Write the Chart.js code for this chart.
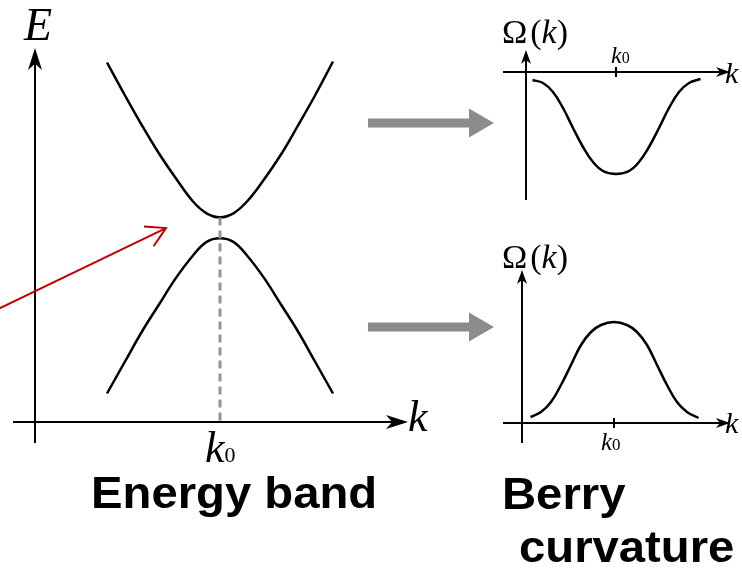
<!DOCTYPE html>
<html lang="en">
<head>
  <meta charset="UTF-8" />
  <title>Energy band and Berry curvature</title>
  <script src="https://cdn.jsdelivr.net/npm/chart.js"></script>
  <style>
    body {
      margin: 0;
      background: #fff;
    }

    #stage {
      position: relative;
      width: 742px;
      height: 574px;
      overflow: hidden;
    }

    #stage canvas {
      position: absolute;
      left: 0;
      top: 0;
    }

    .math {
      position: absolute;
      font-family: "Liberation Serif", "DejaVu Serif", serif;
      line-height: 1;
      white-space: nowrap;
      color: #000;
    }
    .math i { font-style: italic; }
    .math .sub { font-style: normal; }

    .caption {
      position: absolute;
      font-family: "Liberation Sans", Arial, sans-serif;
      font-weight: bold;
      font-size: 45px;
      line-height: 1;
      white-space: nowrap;
      transform: scaleX(1.05);
      transform-origin: left top;
    }
  </style>
</head>
<body>
  <div id="stage">
    <canvas id="band" width="742" height="574"></canvas>
    <canvas id="flow" width="742" height="574"></canvas>
    <canvas id="berryTop" width="742" height="574"></canvas>
    <canvas id="berryBottom" width="742" height="574"></canvas>

    <div class="math" style="left:24px; top:2px; font-size:46px;"><i>E</i></div>
    <div class="math" style="left:408px; top:395px; font-size:44px;"><i>k</i></div>
    <div class="math" style="left:205px; top:426px; font-size:44px;"><i>k</i><span class="sub" style="font-size:22px;">0</span></div>

    <div class="math" style="left:502px; top:15px; font-size:34px;">Ω<span style="margin-left:3px">(</span><i>k</i>)</div>
    <div class="math" style="left:611px; top:43px; font-size:24px;"><i>k</i><span class="sub" style="font-size:16px;">0</span></div>
    <div class="math" style="left:725px; top:58px; font-size:30px;"><i>k</i></div>

    <div class="math" style="left:502px; top:240px; font-size:34px;">Ω<span style="margin-left:3px">(</span><i>k</i>)</div>
    <div class="math" style="left:601px; top:429px; font-size:25px;"><i>k</i><span class="sub" style="font-size:17px;">0</span></div>
    <div class="math" style="left:725px; top:408px; font-size:30px;"><i>k</i></div>

    <div class="caption" style="left:91px; top:470px;">Energy band</div>
    <div class="caption" style="left:502px; top:471px;">Berry</div>
    <div class="caption" style="left:519px; top:524px;">curvature</div>
  </div>

  <script>
    // ---- energy bands around the gap at k0 (k0 = 0) ----
    const bandK  = [-5.65, -4.75, -3.9, -3.05, -2.2, -1.35, -0.67, 0, 0.67, 1.35, 2.2, 3.05, 3.9, 4.75, 5.65];
    const upperE = [8.25, 6.6, 5.1, 3.7, 2.45, 1.3, 0.71, 0.51, 0.71, 1.3, 2.4, 3.65, 5.1, 6.6, 8.3];
    const lowerE = [-8.3, -6.7, -5.2, -3.85, -2.52, -1.4, -0.72, -0.54, -0.72, -1.4, -2.52, -3.85, -5.2, -6.7, -8.3];

    // dashed guide from the gap down to the k axis
    const guideK = [0, 0];
    const guideE = [0.5, -9.7];

    // red pointer into the gap
    const pointerK = [-11.25, -2.7];
    const pointerE = [-4.15, -0.03];
    const pointerHeadK = [-3.8, -2.7, -3.32];
    const pointerHeadE = [0.055, -0.03, -0.935];

    // grey arrows from each band to its curvature panel
    const flowX = [0.57, 8.38];
    const flowTopY = [9.08, 9.08];
    const flowBottomY = [0.92, 0.92];

    // ---- Berry curvature of the two bands ----
    const berryK = [-8.35, -7.3, -6.3, -5.3, -4.3, -3.3, -2.3, -1.3, 0, 1.3, 2.3, 3.3, 4.3, 5.3, 6.3, 7.3, 8.45];
    const omegaUpper = [-0.8, -1.1, -2.0, -3.6, -5.6, -7.5, -9.0, -9.9, -10.2, -9.9, -9.0, -7.5, -5.6, -3.6, -2.0, -1.1, -0.7];
    const omegaLower = [0.6, 1.1, 2.1, 3.8, 5.8, 7.8, 9.1, 9.8, 10.1, 9.8, 9.1, 7.8, 5.8, 3.8, 2.1, 1.1, 0.5];

    const W = 742, H = 574;

    function pts(xs, ys) {
      return xs.map((x, i) => ({x: x, y: ys[i]}));
    }

    function arrowHead(ctx, tx, ty, dx, dy, len, half) {
      const bx = tx - dx * len, by = ty - dy * len;
      const nx = -dy, ny = dx;
      ctx.beginPath();
      ctx.moveTo(tx, ty);
      ctx.lineTo(bx + nx * half, by + ny * half);
      ctx.lineTo(tx - dx * len * 0.72, ty - dy * len * 0.72);
      ctx.lineTo(bx - nx * half, by - ny * half);
      ctx.closePath();
      ctx.fill();
    }

    // draws the two crossing axes with arrow tips (and an optional tick at k0)
    const axesPlugin = {
      id: 'axes',
      beforeDatasetsDraw(chart, args, opts) {
        const {ctx, scales: {x, y}} = chart;
        const ox = x.getPixelForValue(opts.originK);
        const oy = y.getPixelForValue(opts.originV);
        const left = x.getPixelForValue(x.min);
        const right = x.getPixelForValue(x.max);
        const top = y.getPixelForValue(y.max);
        const bottom = y.getPixelForValue(y.min);
        ctx.save();
        ctx.strokeStyle = '#000';
        ctx.fillStyle = '#000';
        ctx.lineWidth = opts.width;
        ctx.beginPath();
        ctx.moveTo(left, oy);
        ctx.lineTo(right - opts.head * 0.7, oy);
        ctx.moveTo(ox, bottom);
        ctx.lineTo(ox, top + opts.head * 0.7);
        if (opts.tick !== undefined) {
          const tx = x.getPixelForValue(opts.tick);
          ctx.moveTo(tx, oy - 5);
          ctx.lineTo(tx, oy + 5);
        }
        ctx.stroke();
        arrowHead(ctx, right, oy, 1, 0, opts.head, opts.half);
        arrowHead(ctx, ox, top, 0, -1, opts.head, opts.half);
        ctx.restore();
      }
    };

    function makeChart(id, area, xr, yr, axes, datasets) {
      return new Chart(document.getElementById(id), {
        type: 'line',
        data: {datasets: datasets},
        options: {
          animation: false,
          responsive: false,
          events: [],
          layout: {
            padding: {left: area[0], top: area[1], right: W - area[2], bottom: H - area[3]}
          },
          scales: {
            x: {type: 'linear', display: false, min: xr[0], max: xr[1]},
            y: {type: 'linear', display: false, min: yr[0], max: yr[1]}
          },
          elements: {point: {radius: 0}},
          plugins: {
            legend: {display: false},
            tooltip: {enabled: false},
            axes: axes || {}
          }
        },
        plugins: axes ? [axesPlugin] : []
      });
    }

    const curve = (data) => ({
      data: data,
      borderColor: '#000',
      borderWidth: 2.5,
      tension: 0.4,
      clip: false
    });

    const flowArrow = (data) => ({
      data: data,
      borderColor: '#8c8c8c',
      borderWidth: 9,
      borderCapStyle: 'butt',
      pointStyle: 'triangle',
      rotation: 90,
      pointRadius: [0, 16.7],
      pointBackgroundColor: '#8c8c8c',
      pointBorderColor: '#8c8c8c',
      pointBorderWidth: 0,
      clip: false
    });

    makeChart('band', [13, 48, 408, 443], [-10.35, 9.4], [-10.775, 8.975],
      {originK: -9.25, originV: -9.725, width: 2, head: 22, half: 7},
      [
        {
          data: pts(guideK, guideE),
          borderColor: '#949494',
          borderWidth: 3,
          borderDash: [8, 5],
          borderCapStyle: 'butt'
        },
        curve(pts(bandK, upperE)),
        curve(pts(bandK, lowerE)),
        {
          data: pts(pointerK, pointerE),
          borderColor: '#c00000',
          borderWidth: 2,
          clip: false
        },
        {
          data: pts(pointerHeadK, pointerHeadE),
          borderColor: '#c00000',
          borderWidth: 2,
          borderJoinStyle: 'miter',
          clip: false
        }
      ]);

    makeChart('flow', [360, 100, 500, 350], [0, 10], [0, 10], null,
      [flowArrow(pts(flowX, flowTopY)), flowArrow(pts(flowX, flowBottomY))]);

    makeChart('berryTop', [503, 50, 730, 200], [-11.3, 11.4], [-12.8, 2.2],
      {originK: -9.0, originV: 0, width: 2, head: 14, half: 5, tick: 0},
      [curve(pts(berryK, omegaUpper))]);

    makeChart('berryBottom', [503, 270, 730, 443], [-11.1, 11.6], [-2.0, 15.3],
      {originK: -9.2, originV: 0, width: 2, head: 14, half: 5, tick: 0},
      [curve(pts(berryK, omegaLower))]);
  </script>
</body>
</html>
